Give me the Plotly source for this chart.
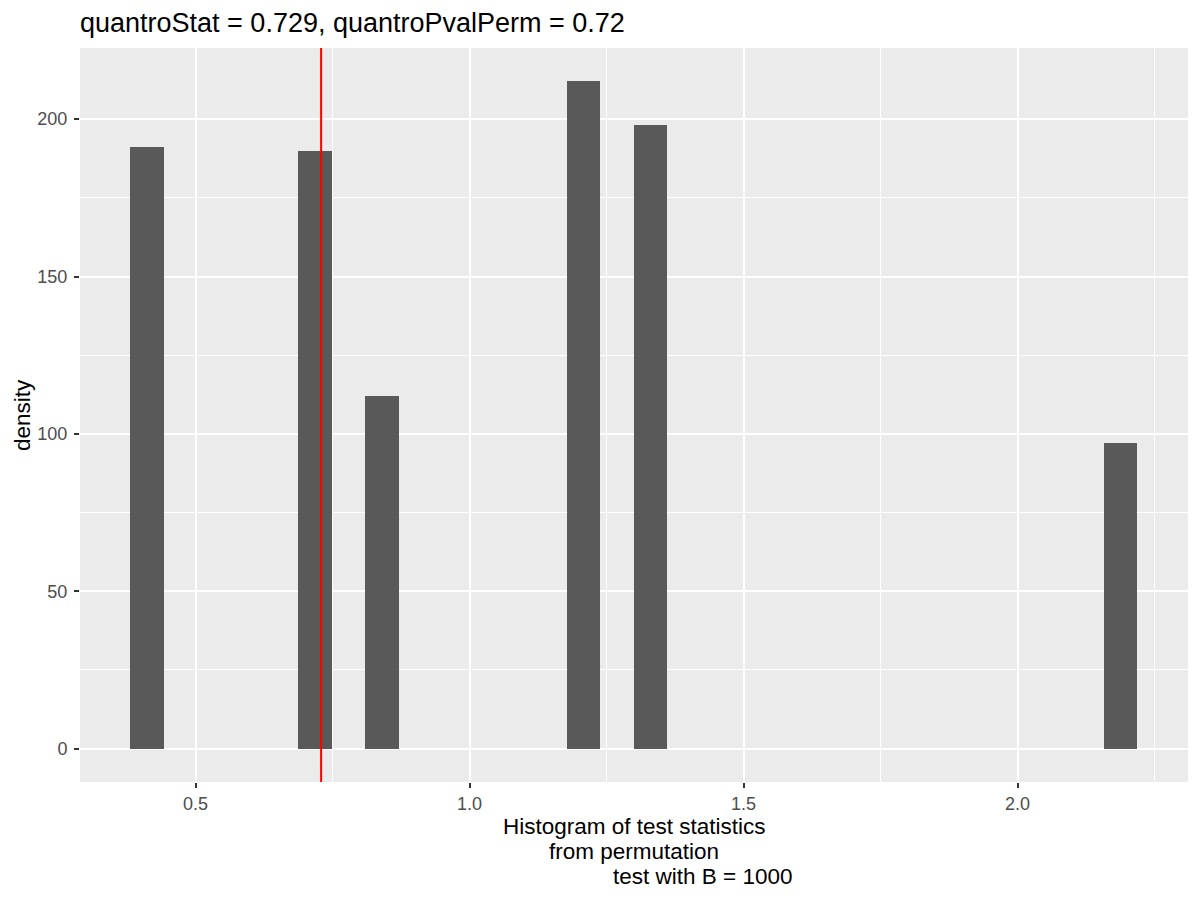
import plotly.graph_objects as go

# histogram bins (centres) and heights
bin_centers = [0.4115, 0.7178, 0.8403, 1.2079, 1.3304, 2.1880]
bin_heights = [191, 190, 112, 212, 198, 97]
bin_width = 0.0613

quantro_stat = 0.729
title_text = "quantroStat = 0.729, quantroPvalPerm = 0.72"
x_title_lines = ["Histogram of test statistics", "from permutation", "test with B = 1000"]
x_ticks = [0.5, 1.0, 1.5, 2.0]
x_ticklabels = ["0.5", "1.0", "1.5", "2.0"]
y_ticks = [0, 50, 100, 150, 200]

FONT = "Liberation Sans, Arial, sans-serif"

# the page body has an 8px margin, so the figure is 8px smaller each way
W, H = 1192, 892
ML, MR, MT, MB = 72, 12, 40, 118

fig = go.Figure()
fig.add_trace(go.Bar(
    x=bin_centers, y=bin_heights, width=bin_width,
    marker=dict(color="#595959", line=dict(width=0)),
    hoverinfo="x+y", showlegend=False,
))

# red reference line for the observed statistic
fig.add_shape(type="line", x0=quantro_stat, x1=quantro_stat, xref="x",
              y0=0, y1=1, yref="paper", line=dict(color="#FF0000", width=2))

fig.update_layout(
    width=W, height=H,
    margin=dict(l=ML, r=MR, t=MT, b=MB),
    paper_bgcolor="white", plot_bgcolor="#EBEBEB",
    font=dict(family=FONT, color="black"),
    title=dict(text=title_text, x=ML / W, xanchor="left", xref="container",
               y=1 - 24 / H, yanchor="bottom", yref="container",
               font=dict(size=27, family=FONT, color="black")),
    bargap=0,
)

axis_common = dict(
    showgrid=True, gridcolor="white", gridwidth=2.2,
    ticks="outside", ticklen=5, tickwidth=1.6, tickcolor="#333333",
    tickfont=dict(size=18, color="#4D4D4D", family=FONT),
    zeroline=False, showline=False,
)
fig.update_xaxes(
    range=[0.289, 2.311], tickvals=x_ticks, ticktext=x_ticklabels,
    minor=dict(dtick=0.25, tick0=0, showgrid=True, gridcolor="white", gridwidth=1.1),
    **axis_common,
)
fig.update_yaxes(
    range=[-10.6, 222.6], tickvals=y_ticks, ticklabelstandoff=3,
    minor=dict(dtick=25, tick0=0, showgrid=True, gridcolor="white", gridwidth=1.1),
    **axis_common,
)

# x axis title, one annotation per line (third line is indented in the original)
x_line_pos = [0.5, 0.5, 0.562]
x_line_shift = [-30, -55, -80]
for txt, xp, ys in zip(x_title_lines, x_line_pos, x_line_shift):
    fig.add_annotation(text=txt, xref="paper", yref="paper", x=xp, y=0,
                       xanchor="center", yanchor="top", yshift=ys, showarrow=False,
                       font=dict(size=22.5, family=FONT, color="black"))

fig.add_annotation(text="density", xref="paper", yref="paper", x=0, y=0.5,
                   xanchor="center", yanchor="middle", xshift=-58, textangle=-90,
                   showarrow=False, font=dict(size=22.5, family=FONT, color="black"))

fig.write_html("out.html")
